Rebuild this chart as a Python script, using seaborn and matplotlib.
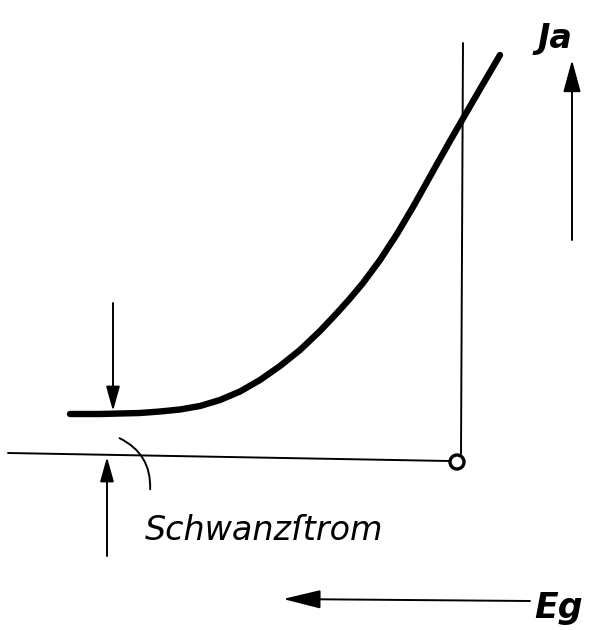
import matplotlib
matplotlib.use("Agg")
import matplotlib.pyplot as plt
import seaborn as sns
import pandas as pd
from matplotlib.patches import FancyArrowPatch, Circle

# Characteristic curve (image coordinates, y grows downward)
curve_x = [70, 100, 140, 160, 180, 200, 220, 240, 260, 280, 300, 320, 337, 350,
           363, 380, 397, 413, 427, 437, 450, 465, 483, 500]
curve_y = [414, 414, 413, 411.5, 409.5, 406, 400, 391.5, 380, 366, 350, 331, 313, 298.5,
           283, 260, 234, 207, 182, 164, 141, 115, 84, 55]

label_tail = "Schwanzſtrom"
label_ia = "Ja"
label_eg = "Eg"

sns.set_theme(style="white")
plt.rcParams['font.family'] = ['DejaVu Sans']

fig = plt.figure(figsize=(5.96, 6.30), dpi=100)
ax = fig.add_axes([0, 0, 1, 1])
ax.set_xlim(0, 596)
ax.set_ylim(630, 0)
ax.axis("off")

df = pd.DataFrame({"x": curve_x, "y": curve_y})
sns.lineplot(data=df, x="x", y="y", ax=ax, color="black", linewidth=4.6,
             sort=False, solid_capstyle="round", solid_joinstyle="round")

lw = 1.4
# baseline and vertical line
ax.plot([8, 449], [453, 461], color="black", lw=lw)
ax.plot([463, 461], [43, 454], color="black", lw=lw)
ax.add_patch(Circle((457, 462), 7, facecolor="white", edgecolor="black", lw=2.4, zorder=5))

def arrow(p0, p1, scale=15, hl=1.0, hw=0.28):
    ax.add_patch(FancyArrowPatch(p0, p1,
                                 arrowstyle=f"-|>,head_length={hl},head_width={hw}",
                                 mutation_scale=scale, color="black", lw=lw,
                                 shrinkA=0, shrinkB=0))

arrow((113, 303), (113, 411))
arrow((107, 556), (107, 457))
arrow((572, 240), (572, 60), scale=18, hl=1.1, hw=0.3)
arrow((530, 601), (283, 599), scale=18, hl=1.3, hw=0.32)

# leader curve
ax.annotate("", xy=(150, 492), xytext=(117, 437),
            arrowprops=dict(arrowstyle="-", color="black", lw=lw,
                            connectionstyle="arc3,rad=-0.35"))

ax.text(145, 540, label_tail, fontsize=24, style="italic", color="black",
        ha="left", va="baseline")
ax.text(538, 48, label_ia, fontsize=24, style="italic", fontweight="bold",
        color="black", ha="left", va="baseline")
ax.text(534, 618, label_eg, fontsize=25, style="italic", fontweight="bold",
        color="black", ha="left", va="baseline")

fig.savefig("out.png", dpi=100, facecolor="white")
